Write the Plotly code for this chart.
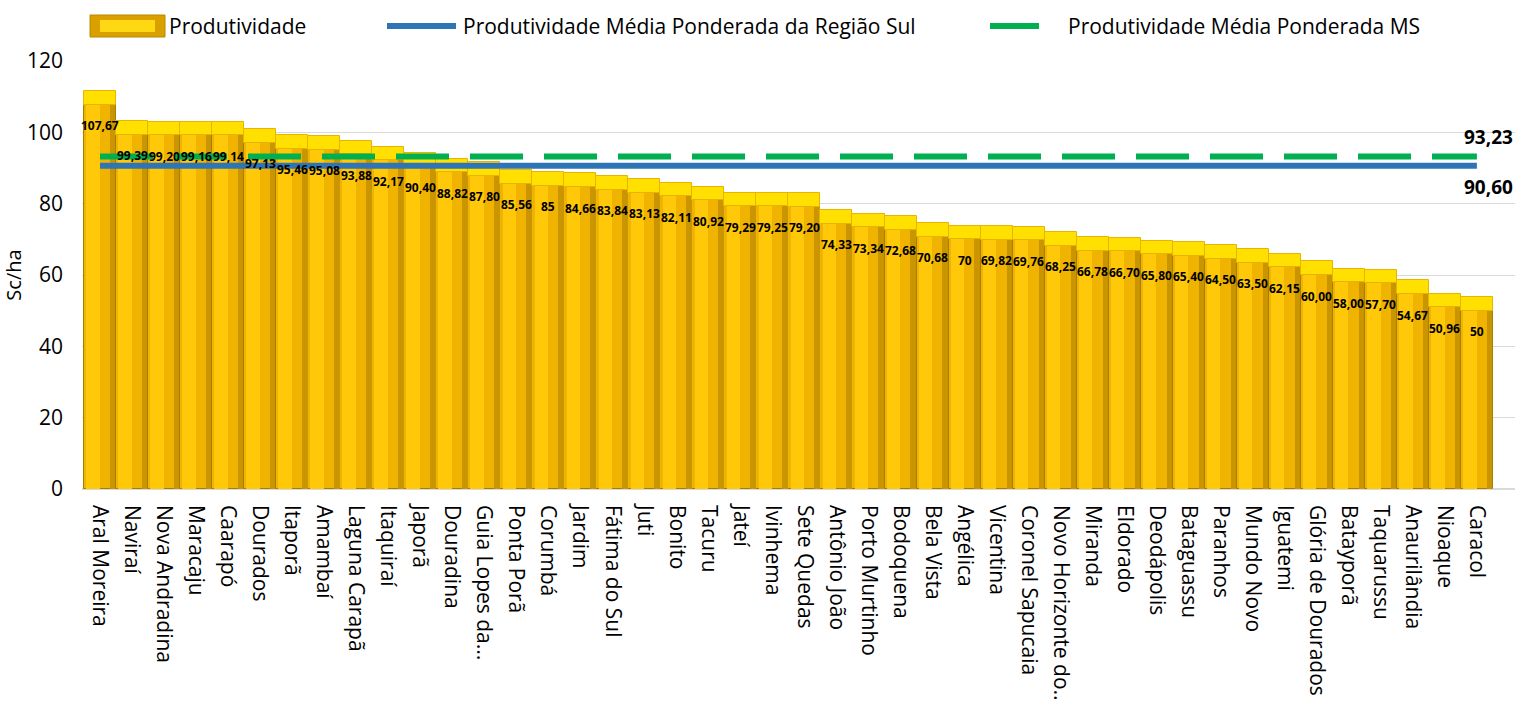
import plotly.graph_objects as go

municipios = ["Aral Moreira", "Naviraí", "Nova Andradina", "Maracaju", "Caarapó", "Dourados",
              "Itaporã", "Amambaí", "Laguna Carapã", "Itaquiraí", "Japorã", "Douradina",
              "Guia Lopes da...", "Ponta Porã", "Corumbá", "Jardim", "Fátima do Sul", "Juti",
              "Bonito", "Tacuru", "Jateí", "Ivinhema", "Sete Quedas", "Antônio João",
              "Porto Murtinho", "Bodoquena", "Bela Vista", "Angélica", "Vicentina",
              "Coronel Sapucaia", "Novo Horizonte do..", "Miranda", "Eldorado", "Deodápolis",
              "Bataguassu", "Paranhos", "Mundo Novo", "Iguatemi", "Glória de Dourados",
              "Batayporã", "Taquarussu", "Anaurilândia", "Nioaque", "Caracol"]

produtividade = [107.67, 99.39, 99.20, 99.16, 99.14, 97.13, 95.46, 95.08, 93.88, 92.17,
                 90.40, 88.82, 87.80, 85.56, 85, 84.66, 83.84, 83.13, 82.11, 80.92,
                 79.29, 79.25, 79.20, 74.33, 73.34, 72.68, 70.68, 70, 69.82, 69.76,
                 68.25, 66.78, 66.70, 65.80, 65.40, 64.50, 63.50, 62.15, 60.00, 58.00,
                 57.70, 54.67, 50.96, 50]

rotulos = ["107,67", "99,39", "99,20", "99,16", "99,14", "97,13", "95,46", "95,08", "93,88",
           "92,17", "90,40", "88,82", "87,80", "85,56", "85", "84,66", "83,84", "83,13",
           "82,11", "80,92", "79,29", "79,25", "79,20", "74,33", "73,34", "72,68", "70,68",
           "70", "69,82", "69,76", "68,25", "66,78", "66,70", "65,80", "65,40", "64,50",
           "63,50", "62,15", "60,00", "58,00", "57,70", "54,67", "50,96", "50"]

media_sul = 90.60
media_ms = 93.23
rotulo_sul = "90,60"
rotulo_ms = "93,23"

FONT = "Open Sans"
n = len(municipios)
cap_depth = [3.8] * n  # 3D top face of each column (styling only)

fig = go.Figure()

# main columns
fig.add_trace(go.Bar(x=municipios, y=produtividade, name="Produtividade", width=1.0,
                     marker=dict(color="#F0B400", line=dict(color="#A87E00", width=1)),
                     showlegend=False))
# left highlight
fig.add_trace(go.Bar(x=municipios, y=produtividade, width=0.42, offset=-0.43,
                     marker=dict(color="#FFC90A", line=dict(width=0)),
                     showlegend=False, hoverinfo="skip"))
# right shade
fig.add_trace(go.Bar(x=municipios, y=produtividade, width=0.17, offset=0.31,
                     marker=dict(color="#C99500", line=dict(width=0)),
                     showlegend=False, hoverinfo="skip"))
# top face
fig.add_trace(go.Bar(x=municipios, y=cap_depth, base=produtividade, width=1.0,
                     marker=dict(color="#FFE000", line=dict(color="#E8B400", width=1)),
                     showlegend=False, hoverinfo="skip"))

fig.add_trace(go.Scatter(x=municipios, y=[media_sul] * n, mode="lines",
                         name="Produtividade Média Ponderada da Região Sul",
                         line=dict(color="#2E75B6", width=6), showlegend=False))
fig.add_trace(go.Scatter(x=municipios, y=[media_ms] * n, mode="lines",
                         name="Produtividade Média Ponderada MS",
                         line=dict(color="#00B050", width=6, dash="53px,21px"),
                         showlegend=False))

for m, v, r in zip(municipios, produtividade, rotulos):
    fig.add_annotation(x=m, y=v, text=r, showarrow=False, yshift=-21,
                       font=dict(family=FONT, size=12, color="#000000", weight="bold"))

fig.add_annotation(x=municipios[-1], y=media_ms, text=rotulo_ms, showarrow=False,
                   xanchor="right", yanchor="bottom", xshift=38, yshift=4,
                   font=dict(family=FONT, size=19, color="#000000", weight="bold"))
fig.add_annotation(x=municipios[-1], y=media_sul, text=rotulo_sul, showarrow=False,
                   xanchor="right", yanchor="top", xshift=38, yshift=-6,
                   font=dict(family=FONT, size=19, color="#000000", weight="bold"))

# manual legend (positions in pixels converted to paper coordinates)
L, W, B, H = 82, 1433, 489, 428
def px(x):
    return (x - L) / W
def py(y):
    return (B - y) / H

fig.add_shape(type="rect", xref="paper", yref="paper", x0=px(90), x1=px(165), y0=py(37), y1=py(15),
              fillcolor="#D9A000", line=dict(color="#B88A00", width=1))
fig.add_shape(type="rect", xref="paper", yref="paper", x0=px(100), x1=px(155), y0=py(32), y1=py(20),
              fillcolor="#FFD814", line=dict(width=0))
fig.add_shape(type="line", xref="paper", yref="paper", x0=px(387), x1=px(456), y0=py(26), y1=py(26),
              line=dict(color="#2E75B6", width=6))
fig.add_shape(type="line", xref="paper", yref="paper", x0=px(990), x1=px(1039), y0=py(26), y1=py(26),
              line=dict(color="#00B050", width=6))
for xpos, txt in [(167, "Produtividade"), (461, "Produtividade Média Ponderada da Região Sul"),
                  (1066, "Produtividade Média Ponderada MS")]:
    fig.add_annotation(xref="paper", yref="paper", x=px(xpos), y=py(26), text=txt,
                       showarrow=False, xanchor="left", yanchor="middle",
                       font=dict(family=FONT, size=21, color="#000000"))

fig.update_layout(
    width=1518, height=701,
    margin=dict(l=82, r=3, t=61, b=212, autoexpand=False),
    paper_bgcolor="white", plot_bgcolor="white",
    barmode="overlay", bargap=0,
    font=dict(family=FONT, color="#000000"),
    showlegend=False,
)
fig.update_xaxes(range=[-0.5625, 44.19], tickangle=90, showgrid=False, showline=False,
                 ticks="", ticklabelstandoff=15, automargin=False,
                 tickfont=dict(family=FONT, size=21, color="#000000"))
fig.update_yaxes(range=[0, 120], dtick=20, showgrid=True, gridcolor="#D9D9D9", gridwidth=1,
                 zeroline=True, zerolinecolor="#D9D9D9", zerolinewidth=2, showline=False,
                 ticks="", ticklabelstandoff=18, automargin=False,
                 tickfont=dict(family=FONT, size=21, color="#000000"),
                 title=dict(text="Sc/ha", font=dict(family=FONT, size=20, color="#000000"),
                            standoff=0))

fig.write_html("out.html", config={"displayModeBar": False},
               post_script="document.body.style.margin='0';")
